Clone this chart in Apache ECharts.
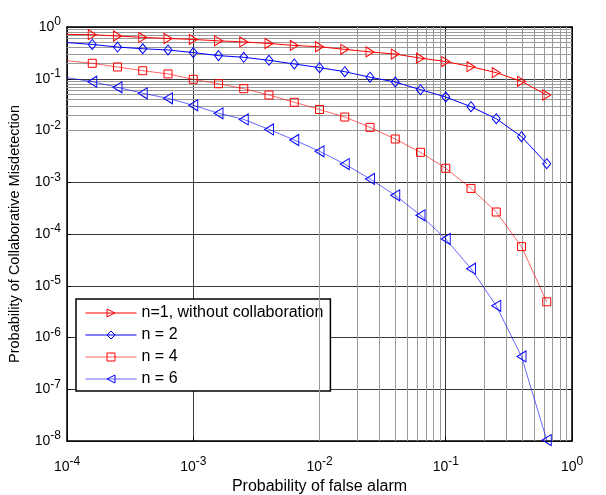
<!DOCTYPE html>
<html>
<head>
<meta charset="utf-8">
<script src="https://cdn.jsdelivr.net/npm/echarts@6/dist/echarts.min.js"></script>
<style>
  html, body { margin: 0; padding: 0; background: #fff; }
  #chart { width: 606px; height: 495px; }
</style>
</head>
<body>
<div id="chart"></div>
<script>
// False-alarm probabilities (0.2-decade steps); the first point sits on the left edge without a marker
const falseAlarm = [1e-4, 1.585e-4, 2.512e-4, 3.981e-4, 6.310e-4, 1e-3, 1.585e-3, 2.512e-3, 3.981e-3, 6.310e-3,
                    1e-2, 1.585e-2, 2.512e-2, 3.981e-2, 6.310e-2, 0.1, 0.1585, 0.2512, 0.3981, 0.6310];

const missN1 = [0.72, 0.71, 0.67, 0.63, 0.60, 0.575, 0.54, 0.515, 0.48, 0.44, 0.415,
                0.37, 0.33, 0.30, 0.25, 0.215, 0.171, 0.131, 0.089, 0.0485];
const missN2 = [0.50, 0.46, 0.41, 0.38, 0.36, 0.32, 0.28, 0.26, 0.227, 0.193, 0.164,
                0.137, 0.107, 0.0865, 0.0615, 0.0444, 0.0288, 0.0169, 0.0076, 0.00228];
const missN4 = [0.223, 0.199, 0.169, 0.143, 0.124, 0.0975, 0.080, 0.0643, 0.0485, 0.0351, 0.0255,
                0.0182, 0.0115, 0.00685, 0.00379, 0.00186, 0.00076, 0.000266, 5.7e-5, 4.9e-6];
const missN6 = [0.105, 0.0877, 0.0684, 0.0524, 0.0419, 0.0307, 0.0215, 0.0164, 0.0105, 0.00655, 0.00396,
                0.00225, 0.00116, 0.00056, 0.00023, 8.0e-5, 2.14e-5, 4.1e-6, 4.3e-7, 1.04e-8];

const seriesNames = ['n=1, without collaboration', 'n = 2', 'n = 4', 'n = 6'];

const FONT = 'Liberation Sans, Arial, sans-serif';
const RED = '#ff0000';
const BLUE = '#0000ff';
const HOLLOW = 'rgba(255,255,255,0)';

// Decade range of both log axes
const xDecades = [-4, 0];
const yDecades = [-8, 0];

function pairs(ys) {
  return falseAlarm.map((x, i) => i === 0 ? { value: [x, ys[i]], symbol: 'none' } : [x, ys[i]]);
}

// Minor grid values 2..9 x 10^k for a log axis
function minorValues(range) {
  const out = [];
  for (let k = range[0]; k < range[1]; k++) {
    for (let m = 2; m <= 9; m++) out.push(m * Math.pow(10, k));
  }
  return out;
}

function powLabel(v) {
  return '10{s|' + Math.round(Math.log10(v)) + '}';
}

const labelRich = {
  s: { fontSize: 12, fontFamily: FONT, color: '#000', padding: [0, 0, 10, 0] }
};

const minorLines = [];
minorValues(xDecades).forEach(v => minorLines.push({ xAxis: v }));
minorValues(yDecades).forEach(v => minorLines.push({ yAxis: v }));

function lineSeries(name, data, color, symbol, size, rotate, opacity) {
  return {
    name: name,
    type: 'line',
    data: pairs(data),
    symbol: symbol,
    symbolSize: size,
    symbolRotate: rotate,
    showAllSymbol: true,
    z: 5,
    lineStyle: { color: color, width: 1, opacity: opacity },
    itemStyle: { color: HOLLOW, borderColor: color, borderWidth: 1 },
    emphasis: { disabled: true },
    animation: false
  };
}

const chart = echarts.init(document.getElementById('chart'), null, { renderer: 'canvas' });

const axisCommon = {
  type: 'log',
  logBase: 10,
  axisLine: { show: true, onZero: false, lineStyle: { color: '#000', width: 1.5 } },
  axisTick: { show: true, inside: true, length: 4, lineStyle: { color: '#000' } },
  splitLine: { show: true, lineStyle: { color: '#3a3a3a', width: 1 } }
};

chart.setOption({
  backgroundColor: '#fff',
  animation: false,
  grid: { left: 67, right: 34, top: 27, bottom: 54, containLabel: false, outerBoundsMode: 'none' },
  legend: {
    data: seriesNames,
    orient: 'vertical',
    left: 76,
    top: 299,
    backgroundColor: '#fff',
    borderColor: '#000',
    borderWidth: 1.5,
    borderRadius: 0,
    padding: [5, 7, 3, 9],
    itemWidth: 51,
    itemHeight: 10,
    itemGap: 4,
    selectedMode: false,
    lineStyle: { width: 1 },
    itemStyle: { borderWidth: 1 },
    textStyle: { fontFamily: FONT, fontSize: 16, color: '#000', lineHeight: 18 }
  },
  xAxis: [
    Object.assign({}, axisCommon, {
      min: 1e-4, max: 1, position: 'bottom',
      axisLabel: {
        formatter: powLabel, fontFamily: FONT, fontSize: 14, color: '#000', margin: 15,
        rich: labelRich, showMinLabel: true, showMaxLabel: true
      },
      name: 'Probability of false alarm',
      nameLocation: 'middle',
      nameGap: 37,
      nameTextStyle: { fontFamily: FONT, fontSize: 16, color: '#000' }
    }),
    Object.assign({}, axisCommon, {
      min: 1e-4, max: 1, position: 'top',
      axisLabel: { show: false },
      splitLine: { show: false }
    })
  ],
  yAxis: [
    Object.assign({}, axisCommon, {
      min: 1e-8, max: 1, position: 'left',
      axisLabel: {
        formatter: powLabel, fontFamily: FONT, fontSize: 14, color: '#000', margin: 6,
        rich: labelRich, showMinLabel: true, showMaxLabel: true
      },
      name: 'Probability of Collaborative Misdetection',
      nameLocation: 'middle',
      nameGap: 45,
      nameTextStyle: { fontFamily: FONT, fontSize: 14.5, color: '#000' }
    }),
    Object.assign({}, axisCommon, {
      min: 1e-8, max: 1, position: 'right',
      axisLabel: { show: false },
      splitLine: { show: false }
    })
  ],
  series: [
    {
      name: 'minor-grid',
      type: 'line',
      data: [],
      z: 1,
      silent: true,
      markLine: {
        silent: true,
        symbol: ['none', 'none'],
        label: { show: false },
        animation: false,
        lineStyle: { color: '#9a9a9a', width: 1, type: 'solid' },
        data: minorLines
      }
    },
    lineSeries(seriesNames[0], missN1, RED, 'triangle', [10, 8], -90, 1),
    lineSeries(seriesNames[1], missN2, BLUE, 'diamond', [8, 10], 0, 1),
    lineSeries(seriesNames[2], missN4, RED, 'rect', [8, 8], 0, 0.6),
    lineSeries(seriesNames[3], missN6, BLUE, 'triangle', [11, 9], 90, 0.6)
  ]
});
</script>
</body>
</html>
